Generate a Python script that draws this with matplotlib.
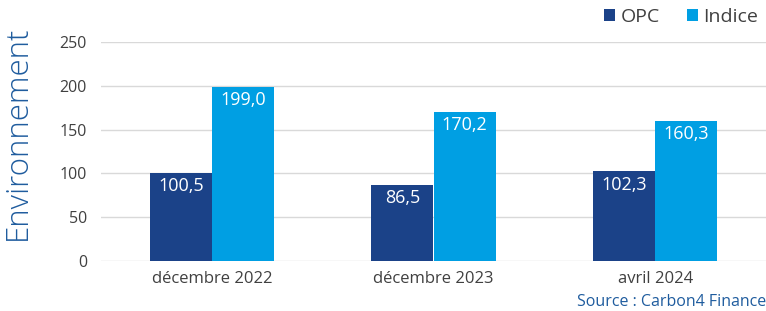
import matplotlib
matplotlib.use("Agg")
import matplotlib.pyplot as plt
import numpy as np

categories = ["décembre 2022", "décembre 2023", "avril 2024"]
opc = [100.5, 86.5, 102.3]
indice = [199.0, 170.2, 160.3]
series_names = ["OPC", "Indice"]
yticks = [0, 50, 100, 150, 200, 250]

DARK = "#1b4288"
LIGHT = "#009fe3"
TEXT = "#404040"
TITLE_BLUE = "#1f5c9e"

plt.rcParams["font.family"] = ["Open Sans", "DejaVu Sans"]

fig = plt.figure(figsize=(7.66, 3.11), dpi=100)
ax = fig.add_axes([101 / 766, 1 - 261 / 311, 1 - 101 / 766, 219 / 311])

x = np.arange(len(categories))
w = 0.28
b1 = ax.bar(x - w / 2, opc, w, color=DARK, label=series_names[0], zorder=3)
b2 = ax.bar(x + w / 2, indice, w, color=LIGHT, label=series_names[1], zorder=3)

for bars, vals in ((b1, opc), (b2, indice)):
    for rect, v in zip(bars, vals):
        ax.annotate(f"{v:.1f}".replace(".", ","),
                    (rect.get_x() + rect.get_width() / 2, rect.get_height()),
                    xytext=(0, -3), textcoords="offset points",
                    ha="center", va="top", color="white", fontsize=13, zorder=4)

ax.set_xlim(-0.5, 2.5)
ax.set_ylim(0, 250)
ax.set_yticks(yticks)
ax.set_xticks(x)
ax.set_xticklabels(categories)
ax.tick_params(axis="both", length=0, colors=TEXT, labelsize=11.5)
ax.tick_params(axis="x", labelsize=12, pad=7)
ax.tick_params(axis="y", pad=10)
ax.grid(axis="y", color="#d9d9d9", linewidth=1, zorder=0)
for s in ax.spines.values():
    s.set_visible(False)

fig.text(18 / 766, 1 - 133 / 311, "Environnement", rotation=90, ha="center", va="center",
         color=TITLE_BLUE, fontsize=22.5, fontweight="light")

leg = ax.legend(loc="upper right", bbox_to_anchor=(1.0, 1.19), ncol=2, frameon=False,
                fontsize=14, handlelength=0.6, handleheight=0.6, handletextpad=0.25,
                columnspacing=1.4, borderaxespad=0)
for t in leg.get_texts():
    t.set_color(TEXT)

fig.text(1.0, 1 / 311, "Source : Carbon4 Finance", ha="right", va="bottom",
         color=TITLE_BLUE, fontsize=11.5)

fig.savefig("out.png", dpi=100)
